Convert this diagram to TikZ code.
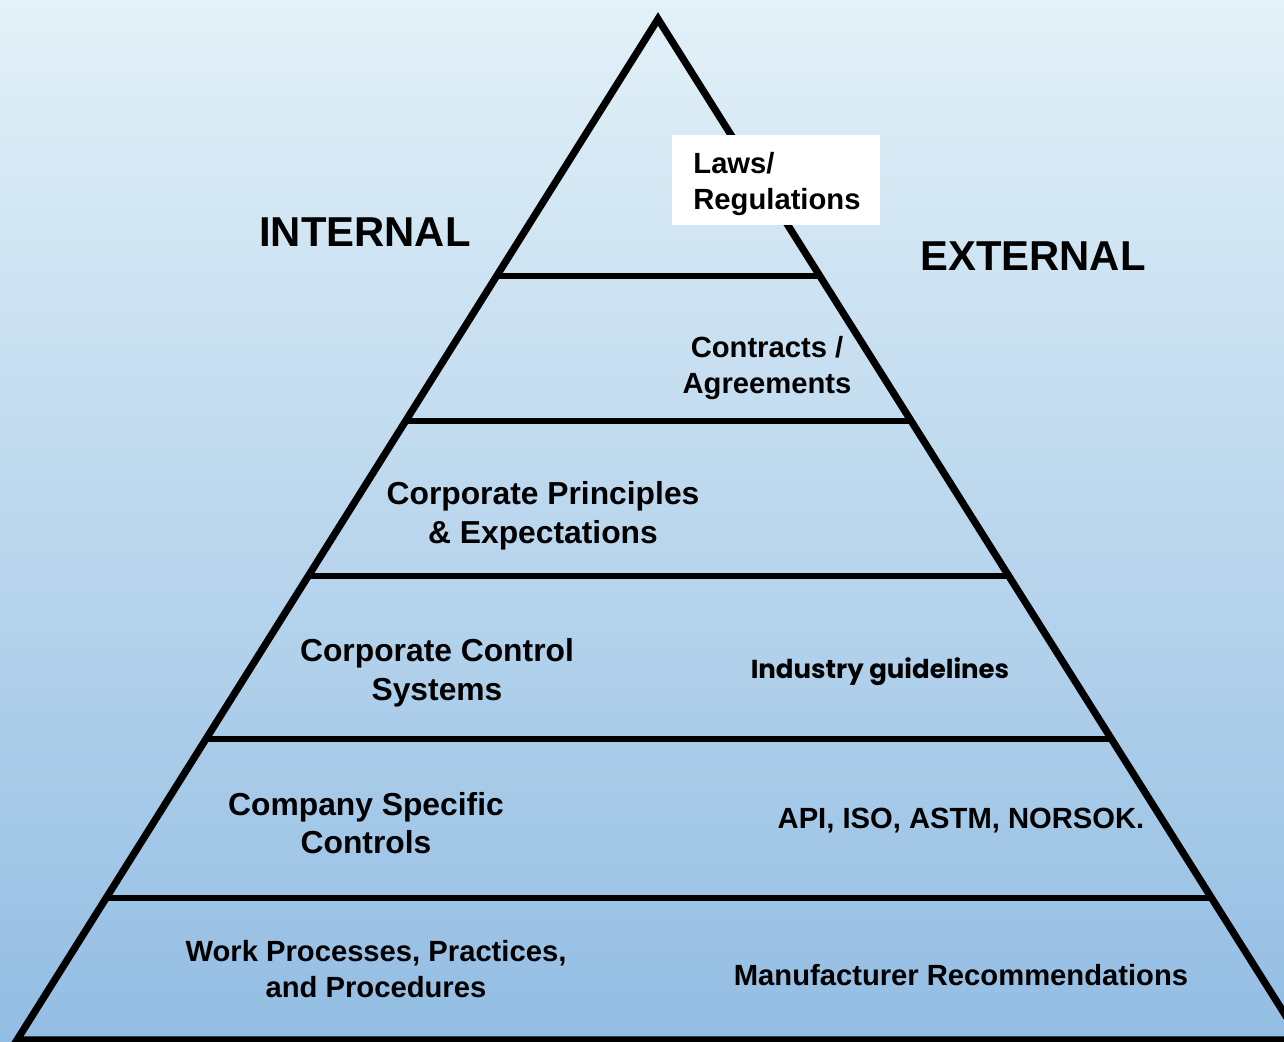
\documentclass[tikz,border=0pt]{standalone}
\usepackage{fontspec}
\setmainfont{Liberation Sans}
\newfontfamily\geofont{Poppins}
\usetikzlibrary{positioning}

\definecolor{skytop}{HTML}{E3F1F8}
\definecolor{skymid}{HTML}{C4DDF0}
\definecolor{skybot}{HTML}{93BDE3}

\begin{document}
\begin{tikzpicture}[x=0.5pt, y=-0.5pt,
        leg/.style={line width=3.6pt, line join=miter},
        band/.style={line width=2.8pt},
        side/.style={font=\fontsize{20.9}{24}\selectfont\bfseries},
        lvl/.style={align=center, inner sep=0pt, font=\fontsize{14.6}{18.2}\selectfont\bfseries},
        lvlbig/.style={align=center, inner sep=0pt, font=\fontsize{15.9}{19.3}\selectfont\bfseries}]
    % sky background
    \useasboundingbox (0,0) rectangle (1284,1042);
    \shade[top color=skytop, middle color=skymid, bottom color=skybot] (0,0) rectangle (1284,1042);

    % pyramid outline
    \coordinate (apex) at (658,19);
    \coordinate (bl) at (17,1040);
    \coordinate (br) at (1301,1040);
    \draw[leg] (bl) -- (apex) -- (br) -- cycle;

    % levels
    \foreach \y/\xl/\xr in {276/496/820, 421/405/911, 576/307/1009, 739/204/1112, 898/104/1212}
        \draw[band] (\xl,\y) -- (\xr,\y);

    % top box
    \node[fill=white, minimum width=104pt, minimum height=45pt, inner sep=0pt] (lawbox) at (776,180) {};
    \node[lvl, align=left, anchor=west] (laws) at (693,184) {Laws/\\Regulations};

    \node[side] (internal) at (365,232) {INTERNAL};
    \node[side] (external) at (1033,256) {EXTERNAL};

    \node[lvl] (contracts) at (767,368) {Contracts /\\Agreements};
    \node[lvlbig] (principles) at (543,516) {Corporate Principles\\\& Expectations};
    \node[lvlbig] (ctrlsys) at (437,673) {Corporate Control\\Systems};
    \node[lvlbig] (specific) at (366,823) {Company Specific\\Controls};
    \node[lvl] (workproc) at (376,969) {Work Processes, Practices,\\and Procedures};

    \node[inner sep=0pt, font=\geofont\fontsize{13}{15}\selectfont\bfseries] (industry) at (880,672) {Industry guidelines};
    \node[lvl] (standards) at (961,821) {API, ISO, ASTM, NORSOK.};
    \node[lvl] (maker) at (961,975) {Manufacturer Recommendations};
\end{tikzpicture}
\end{document}
